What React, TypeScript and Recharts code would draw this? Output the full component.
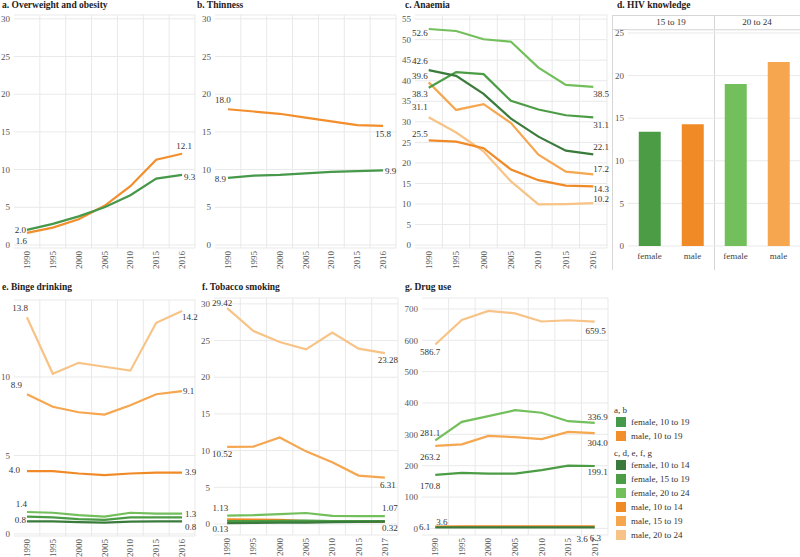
import React from "react";
import {
  LineChart, Line, XAxis, YAxis, CartesianGrid, ReferenceLine, LabelList,
  BarChart, Bar, Cell,
} from "recharts";

const FONT = '"Liberation Serif", "DejaVu Serif", serif';

// categories
const YEARS_16 = ["1990", "1995", "2000", "2005", "2010", "2015", "2016"];
const YEARS_17 = ["1990", "1995", "2000", "2005", "2010", "2015", "2017"];

// a. overweight and obesity
const OBESITY_F = [2.0, 2.8, 3.8, 5.0, 6.6, 8.8, 9.3];
const OBESITY_M = [1.6, 2.3, 3.4, 5.2, 7.8, 11.3, 12.1];

// b. thinness
const THIN_F = [8.9, 9.2, 9.3, 9.5, 9.7, 9.8, 9.9];
const THIN_M = [18.0, 17.7, 17.4, 16.9, 16.4, 15.9, 15.8];

// c. anaemia
const ANAEMIA_F1014 = [42.6, 41.2, 36.8, 30.8, 26.4, 23.0, 22.1];
const ANAEMIA_F1519 = [38.3, 42.1, 41.6, 35.1, 33.0, 31.6, 31.1];
const ANAEMIA_F2024 = [52.6, 52.1, 50.1, 49.5, 43.2, 39.0, 38.5];
const ANAEMIA_M1014 = [25.5, 25.2, 23.6, 18.4, 15.8, 14.5, 14.3];
const ANAEMIA_M1519 = [39.6, 32.9, 34.3, 29.7, 22.0, 17.9, 17.2];
const ANAEMIA_M2024 = [31.1, 27.4, 22.8, 15.5, 9.9, 10.0, 10.2];

// d. HIV knowledge
const HIV_GROUPS = ["15 to 19", "20 to 24"];
const HIV_SEX = ["female", "male"];
const HIV_1519 = [13.4, 14.3];
const HIV_2024 = [19.0, 21.6];

// e. binge drinking
const BINGE_F1014 = [0.8, 0.8, 0.75, 0.72, 0.78, 0.8, 0.8];
const BINGE_F1519 = [1.1, 1.05, 0.95, 0.9, 1.05, 1.05, 1.05];
const BINGE_F2024 = [1.4, 1.35, 1.2, 1.1, 1.35, 1.3, 1.3];
const BINGE_M1014 = [4.0, 4.0, 3.85, 3.75, 3.85, 3.9, 3.9];
const BINGE_M1519 = [8.9, 8.1, 7.75, 7.6, 8.2, 8.9, 9.1];
const BINGE_M2024 = [13.8, 10.2, 10.9, 10.65, 10.4, 13.45, 14.2];

// f. tobacco smoking
const TOBACCO_F1014 = [0.13, 0.15, 0.18, 0.2, 0.25, 0.3, 0.32];
const TOBACCO_F1519 = [0.4, 0.4, 0.42, 0.45, 0.4, 0.4, 0.4];
const TOBACCO_F2024 = [1.13, 1.2, 1.35, 1.5, 1.1, 1.07, 1.07];
const TOBACCO_M1014 = [0.62, 0.6, 0.55, 0.4, 0.3, 0.3, 0.3];
const TOBACCO_M1519 = [10.52, 10.55, 11.8, 9.9, 8.4, 6.6, 6.31];
const TOBACCO_M2024 = [29.42, 26.3, 24.8, 23.8, 26.1, 23.9, 23.28];

// g. drug use
const DRUG_F1014 = [3.6, 3.6, 3.5, 3.5, 3.5, 3.6, 3.6];
const DRUG_F1519 = [170.8, 177, 175, 175, 186, 200, 199.1];
const DRUG_F2024 = [281.1, 340, 358, 377, 369, 342, 336.9];
const DRUG_M1014 = [6.1, 6.2, 6.2, 6.2, 6.2, 6.3, 6.3];
const DRUG_M1519 = [263.2, 268, 295, 291, 285, 308, 304.0];
const DRUG_M2024 = [586.7, 665, 694, 686, 660, 664, 659.5];

// legend
const LEGEND_AB = ["female, 10 to 19", "male, 10 to 19"];
const LEGEND_ALL = ["female, 10 to 14", "female, 15 to 19", "female, 20 to 24", "male, 10 to 14", "male, 15 to 19", "male, 20 to 24"];

const C = {
  f1019: "#46984a", m1019: "#f28e2b",
  f1014: "#3a7b3c", f1519: "#4c9c46", f2024: "#72bf5c",
  m1014: "#f08a26", m1519: "#f5a64f", m2024: "#f8c386",
};
const GRID = "#e9e9e9";

type Lbl = { dx: number; dy: number; a: "start" | "middle" | "end" };
type S = { name: string; color: string; values: number[]; first?: Lbl; last?: Lbl };
type Pane = { l: number; r: number; t: number; b: number };

function endLabel(s: S, n: number, digits: number) {
  return (p: any) => {
    const spec = p.index === 0 ? s.first : p.index === n - 1 ? s.last : undefined;
    if (!spec) return null;
    const x = p.viewBox?.x ?? p.x;
    const y = p.viewBox?.y ?? p.y;
    return (
      <text x={x + spec.dx} y={y + spec.dy} textAnchor={spec.a} dominantBaseline="central"
        fontSize={9} fill="#333" fontFamily={FONT}>
        {Number(p.value).toFixed(digits)}
      </text>
    );
  };
}

function XTick(props: any) {
  const { x, y, payload, years } = props;
  return (
    <text x={x} y={y} transform={`rotate(-90 ${x} ${y})`} textAnchor="end" dominantBaseline="central"
      fontSize={9} fill="#555" fontFamily={FONT}>
      {years[payload.value]}
    </text>
  );
}

function LinePanel({ years, series, pane, yw, domain, ticks, digits }: {
  years: string[]; series: S[]; pane: Pane; yw: number; domain: [number, number]; ticks: number[]; digits: number;
}) {
  const MT = 14, MR = 18, XH = 30;
  const data = years.map((_, i) => {
    const row: Record<string, number> = { i };
    series.forEach(s => { row[s.name] = s.values[i]; });
    return row;
  });
  const w = yw + pane.r - pane.l + MR;
  const h = MT + pane.b - pane.t + XH;
  const bounds = years.map((_, i) => i + 0.5);
  return (
    <div style={{ position: "absolute", left: pane.l - yw, top: pane.t - MT }}>
      <LineChart width={w} height={h} data={data} margin={{ top: MT, right: MR, bottom: 0, left: 0 }}>
        <CartesianGrid vertical={false} stroke={GRID} />
        {bounds.map(v => <ReferenceLine key={v} x={v} stroke={GRID} />)}
        <XAxis type="number" dataKey="i" domain={[-0.5, years.length - 0.5]} ticks={years.map((_, i) => i)}
          interval={0} height={XH} axisLine={false} tickLine={false} tickSize={0} tickMargin={3}
          tick={<XTick years={years} />} allowDataOverflow />
        <YAxis type="number" domain={domain} ticks={ticks} interval={0} width={yw} axisLine={false}
          tickLine={false} tickSize={0} tickMargin={4} allowDataOverflow
          tick={{ fontSize: 9, fill: "#555", fontFamily: FONT }} />
        {series.map(s => (
          <Line key={s.name} type="linear" dataKey={s.name} stroke={s.color} strokeWidth={2.2}
            dot={false} activeDot={false} isAnimationActive={false}>
            <LabelList dataKey={s.name} content={endLabel(s, years.length, digits)} />
          </Line>
        ))}
      </LineChart>
    </div>
  );
}

function HivPane({ values, colors, left, yw }: { values: number[]; colors: string[]; left: number; yw: number }) {
  const data = HIV_SEX.map((s, i) => ({ sex: s, v: values[i] }));
  const MT = 8;
  return (
    <div style={{ position: "absolute", left: left - yw, top: 30 - MT }}>
      <BarChart width={yw + 86} height={MT + 216 + 26} data={data} barCategoryGap="25%"
        margin={{ top: MT, right: 0, bottom: 0, left: 0 }}>
        <CartesianGrid vertical={false} stroke={GRID} />
        <XAxis dataKey="sex" height={26} axisLine={false} tickLine={false} tickSize={0} tickMargin={7}
          interval={0} tick={{ fontSize: 9, fill: "#444", fontFamily: FONT }} />
        <YAxis type="number" domain={[0, 25.35]} ticks={[0, 5, 10, 15, 20, 25]} interval={0} width={yw}
          hide={yw === 0} axisLine={false} tickLine={false} tickSize={0} tickMargin={4} allowDataOverflow
          tick={{ fontSize: 9, fill: "#555", fontFamily: FONT }} />
        <Bar dataKey="v" isAnimationActive={false}>
          {data.map((d, i) => <Cell key={d.sex} fill={colors[i]} />)}
        </Bar>
      </BarChart>
    </div>
  );
}

const L = (dx: number, dy: number, a: "start" | "middle" | "end"): Lbl => ({ dx, dy, a });

function Title({ x, y, children }: { x: number; y: number; children: React.ReactNode }) {
  return (
    <div style={{ position: "absolute", left: x, top: y, fontSize: 9.5, lineHeight: "12px", fontWeight: "bold", color: "#222", whiteSpace: "nowrap" }}>
      {children}
    </div>
  );
}

function Rule({ x, y, w, h }: { x: number; y: number; w: number; h: number }) {
  return <div style={{ position: "absolute", left: x, top: y, width: w, height: h, background: "#d6d6d6" }} />;
}

export default function App() {
  const legendAllColors = [C.f1014, C.f1519, C.f2024, C.m1014, C.m1519, C.m2024];
  return (
    <div style={{ position: "absolute", left: 0, top: 0, width: 800, height: 557, background: "#fff", fontFamily: FONT, overflow: "hidden" }}>
      <Title x={2} y={-1}>a. Overweight and obesity</Title>
      <Title x={197} y={-1}>b. Thinness</Title>
      <Title x={405} y={-1}>c. Anaemia</Title>
      <Title x={617} y={-1}>d. HIV knowledge</Title>
      <Title x={2} y={281}>e. Binge drinking</Title>
      <Title x={202} y={281}>f. Tobacco smoking</Title>
      <Title x={405} y={281}>g. Drug use</Title>

      <LinePanel years={YEARS_16} pane={{ l: 14, r: 195, t: 15, b: 248 }} yw={22}
        domain={[-0.4, 30.5]} ticks={[0, 5, 10, 15, 20, 25, 30]} digits={1}
        series={[
          { name: "m", color: C.m1019, values: OBESITY_M, first: L(0, 8, "end"), last: L(2, -8, "middle") },
          { name: "f", color: C.f1019, values: OBESITY_F, first: L(-1, 0, "end"), last: L(2, 2, "start") },
        ]} />

      <LinePanel years={YEARS_16} pane={{ l: 215, r: 396, t: 15, b: 248 }} yw={22}
        domain={[-0.4, 30.5]} ticks={[0, 5, 10, 15, 20, 25, 30]} digits={1}
        series={[
          { name: "m", color: C.m1019, values: THIN_M, first: L(-5, -9, "middle"), last: L(0, 8, "middle") },
          { name: "f", color: C.f1019, values: THIN_F, first: L(-2, 1, "end"), last: L(2, 1, "start") },
        ]} />

      <LinePanel years={YEARS_16} pane={{ l: 415, r: 607, t: 15, b: 248 }} yw={22}
        domain={[-0.7, 56]} ticks={[0, 5, 10, 15, 20, 25, 30, 35, 40, 45, 50, 55]} digits={1}
        series={[
          { name: "m2024", color: C.m2024, values: ANAEMIA_M2024, first: L(-1, -10, "end"), last: L(0, -4, "start") },
          { name: "m1519", color: C.m1519, values: ANAEMIA_M1519, first: L(-1, -6, "end"), last: L(0, -5, "start") },
          { name: "m1014", color: C.m1014, values: ANAEMIA_M1014, first: L(-1, -6, "end"), last: L(0, 3, "start") },
          { name: "f2024", color: C.f2024, values: ANAEMIA_F2024, first: L(-1, 4, "end"), last: L(0, 7, "start") },
          { name: "f1519", color: C.f1519, values: ANAEMIA_F1519, first: L(-1, 6.5, "end"), last: L(0, 8, "start") },
          { name: "f1014", color: C.f1014, values: ANAEMIA_F1014, first: L(-1, -9, "end"), last: L(0, -7, "start") },
        ]} />

      {/* d. HIV knowledge, faceted by age group */}
      <Rule x={612} y={15} w={188} h={1} />
      <Rule x={612} y={29} w={188} h={1} />
      <Rule x={612} y={15} w={1} h={255} />
      <Rule x={714} y={15} w={1} h={255} />
      {HIV_GROUPS.map((g, i) => (
        <div key={g} style={{ position: "absolute", left: 628 + i * 86, top: 16, width: 86, textAlign: "center", fontSize: 9, lineHeight: "13px", color: "#333" }}>{g}</div>
      ))}
      <HivPane values={HIV_1519} colors={[C.f1519, C.m1014]} left={628} yw={16} />
      <HivPane values={HIV_2024} colors={[C.f2024, C.m1519]} left={714} yw={0} />

      <LinePanel years={YEARS_16} pane={{ l: 14, r: 195, t: 300, b: 536 }} yw={22}
        domain={[-0.13, 14.9]} ticks={[0, 5, 10]} digits={1}
        series={[
          { name: "m2024", color: C.m2024, values: BINGE_M2024, first: L(1, -9, "end"), last: L(0, 6, "start") },
          { name: "m1519", color: C.m1519, values: BINGE_M1519, first: L(-5, -9, "end"), last: L(1, 0, "start") },
          { name: "m1014", color: C.m1014, values: BINGE_M1014, first: L(-7, -1, "end"), last: L(3, -1, "start") },
          { name: "f2024", color: C.f2024, values: BINGE_F2024, first: L(0, -8, "end"), last: L(3, 0, "start") },
          { name: "f1519", color: C.f1519, values: BINGE_F1519 },
          { name: "f1014", color: C.f1014, values: BINGE_F1014, first: L(-1, -1, "end"), last: L(3, 6, "start") },
        ]} />

      <LinePanel years={YEARS_17} pane={{ l: 214, r: 398, t: 298, b: 535 }} yw={22}
        domain={[-1.5, 30.8]} ticks={[0, 5, 10, 15, 20, 25, 30]} digits={2}
        series={[
          { name: "m2024", color: C.m2024, values: TOBACCO_M2024, first: L(5, -5, "end"), last: L(3, 7, "middle") },
          { name: "m1519", color: C.m1519, values: TOBACCO_M1519, first: L(5, 7, "end"), last: L(3, 7, "middle") },
          { name: "m1014", color: C.m1014, values: TOBACCO_M1014 },
          { name: "f2024", color: C.f2024, values: TOBACCO_F2024, first: L(1, -8, "end"), last: L(5, -8, "middle") },
          { name: "f1519", color: C.f1519, values: TOBACCO_F1519 },
          { name: "f1014", color: C.f1014, values: TOBACCO_F1014, first: L(1, 6, "end"), last: L(5, 6, "middle") },
        ]} />

      <LinePanel years={YEARS_17} pane={{ l: 422, r: 608, t: 298, b: 535 }} yw={26}
        domain={[-21, 735]} ticks={[0, 100, 200, 300, 400, 500, 600, 700]} digits={1}
        series={[
          { name: "m2024", color: C.m2024, values: DRUG_M2024, first: L(5, 8, "end"), last: L(1, 9, "middle") },
          { name: "m1519", color: C.m1519, values: DRUG_M1519, first: L(5, 11, "end"), last: L(3, 10, "middle") },
          { name: "f2024", color: C.f2024, values: DRUG_F2024, first: L(5, -7, "end"), last: L(3, -6, "middle") },
          { name: "f1519", color: C.f1519, values: DRUG_F1519, first: L(5, 11, "end"), last: L(3, 6, "middle") },
          { name: "m1014", color: C.m1014, values: DRUG_M1014, first: L(-5, 0, "end"), last: L(-5, 12, "start") },
          { name: "f1014", color: C.f1014, values: DRUG_F1014, first: L(1, -5, "start"), last: L(-7, 12, "end") },
        ]} />

      {/* legend */}
      <div style={{ position: "absolute", left: 614, top: 404, fontSize: 9, lineHeight: "12px", color: "#333" }}>a, b</div>
      {LEGEND_AB.map((t, i) => (
        <div key={t} style={{ position: "absolute", left: 616, top: 416 + i * 14, display: "flex", alignItems: "center", height: 12, fontSize: 9, color: "#333" }}>
          <span style={{ width: 10, height: 10, background: [C.f1019, C.m1019][i], marginRight: 5 }} />{t}
        </div>
      ))}
      <div style={{ position: "absolute", left: 614, top: 447, fontSize: 9, lineHeight: "12px", color: "#333" }}>c, d, e, f, g</div>
      {LEGEND_ALL.map((t, i) => (
        <div key={t} style={{ position: "absolute", left: 616, top: 459 + i * 14, display: "flex", alignItems: "center", height: 12, fontSize: 9, color: "#333" }}>
          <span style={{ width: 10, height: 10, background: legendAllColors[i], marginRight: 5 }} />{t}
        </div>
      ))}
    </div>
  );
}
